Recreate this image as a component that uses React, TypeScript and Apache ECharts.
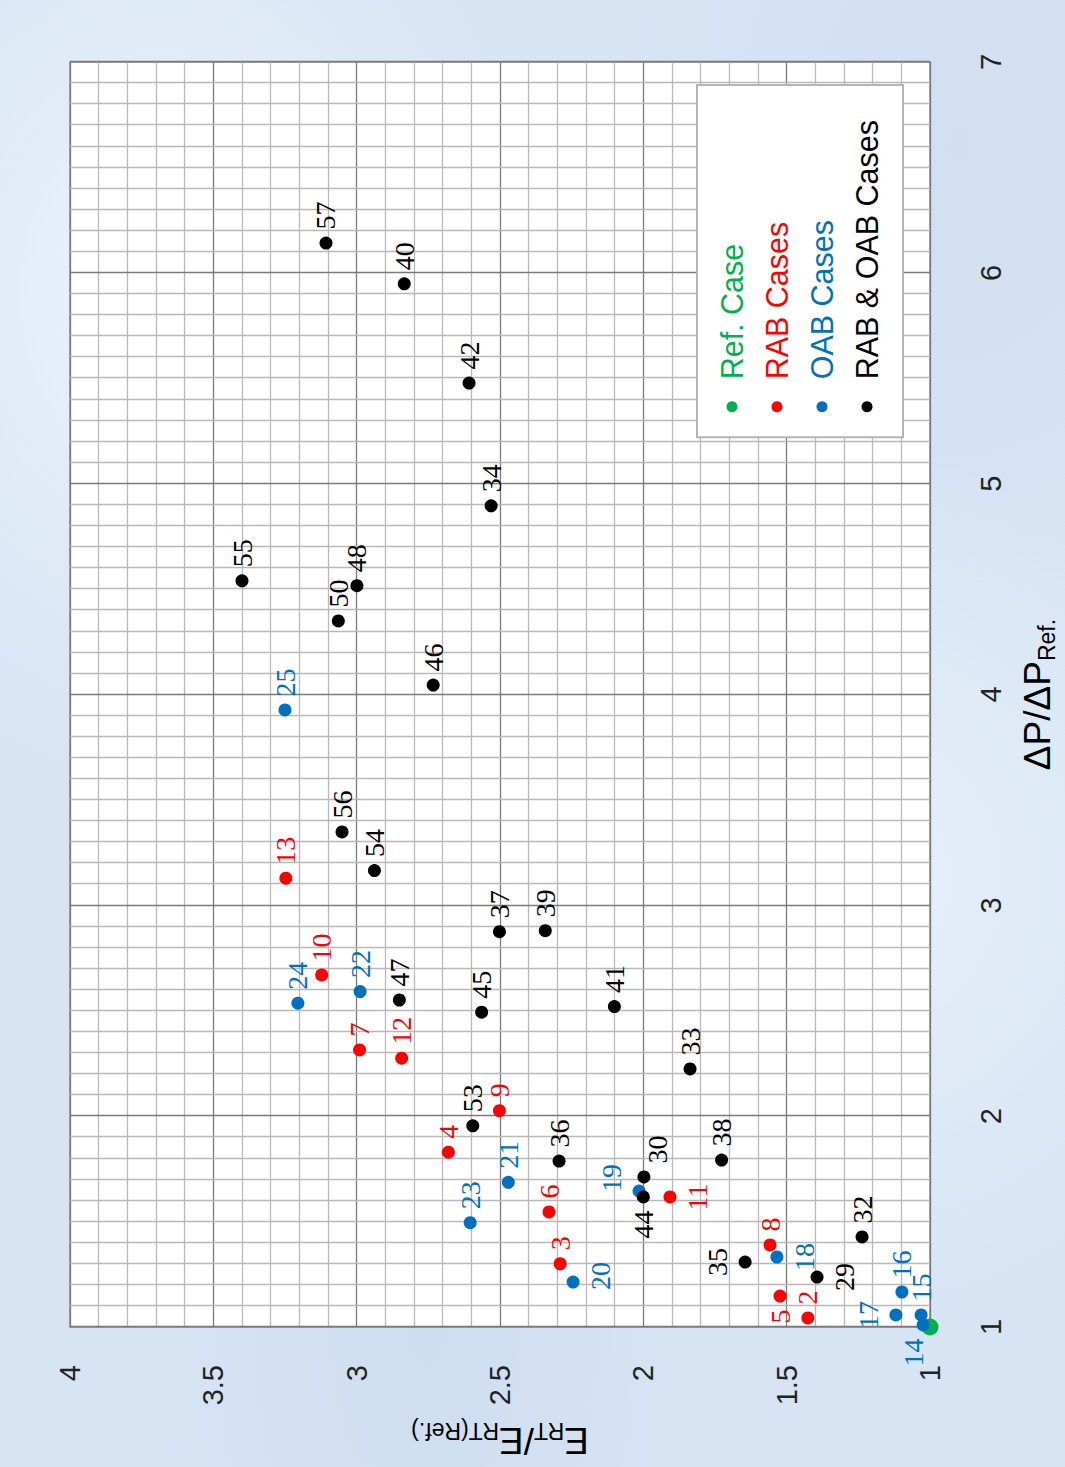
import React, { useEffect, useRef } from "react";
import * as echarts from "echarts";

// ---- data (x = ΔP/ΔP_Ref, y = E_RT/E_RT(Ref.)) ----
const refIds = [1];
const refDp = [1.0];
const refE = [1.0];

const rabIds = [2, 3, 4, 5, 6, 7, 8, 9, 10, 11, 12, 13];
const rabDp = [1.043, 1.3, 1.829, 1.147, 1.546, 2.314, 1.389, 2.026, 2.67, 1.617, 2.275, 3.129];
const rabE = [1.426, 2.29, 2.68, 1.523, 2.329, 2.99, 1.558, 2.502, 3.122, 1.907, 2.843, 3.247];

const oabIds = [14, 15, 16, 17, 18, 19, 20, 21, 22, 23, 24, 25];
const oabDp = [1.01, 1.057, 1.166, 1.057, 1.332, 1.645, 1.213, 1.686, 2.591, 1.495, 2.536, 3.927];
const oabE = [1.024, 1.031, 1.098, 1.119, 1.534, 2.015, 2.245, 2.471, 2.988, 2.604, 3.205, 3.25];

const bothIds = [29, 30, 32, 33, 34, 35, 36, 37, 38, 39, 40, 41, 42, 44, 45, 46, 47, 48, 50, 53, 54, 55, 56, 57];
const bothDp = [1.237, 1.712, 1.427, 2.224, 4.895, 1.308, 1.787, 2.875, 1.792, 2.88, 5.948, 2.52, 5.477, 1.617, 2.493, 4.045, 2.551, 4.516, 4.349, 1.954, 3.165, 4.539, 3.348, 6.141];
const bothE = [1.394, 1.998, 1.237, 1.837, 2.531, 1.645, 2.294, 2.502, 1.727, 2.342, 2.834, 2.101, 2.608, 2.0, 2.564, 2.733, 2.851, 2.999, 3.064, 2.595, 2.938, 3.4, 3.051, 3.107];

const seriesNames = ["Ref. Case", "RAB Cases", "OAB Cases", "RAB & OAB Cases"];
const seriesColors = ["#00b050", "#ff0000", "#0070c0", "#000000"];

// label placement (style only)
const labelPlace: Record<number, { position: string; offset?: number[] }> = {
  5: { position: "left" },
  14: { position: "left", offset: [0, -10] },
  44: { position: "left" },
  18: { position: "bottom" },
  29: { position: "bottom" },
  11: { position: "bottom" },
  20: { position: "bottom", offset: [6, 0] },
  35: { position: "top" },
  17: { position: "top" },
  19: { position: "top", offset: [13, 0] },
  30: { position: "right", offset: [0, 14] },
};

const SANS = "'Liberation Sans', Arial, sans-serif";
const SERIF = "'Liberation Serif', 'Times New Roman', serif";

function buildSeries(idx: number, ids: number[], xs: number[], ys: number[], size: number, showLabel: boolean) {
  const color = seriesColors[idx];
  return {
    type: "scatter",
    name: seriesNames[idx],
    symbol: "circle",
    symbolSize: size,
    clip: false,
    itemStyle: { color, opacity: 1 },
    label: {
      show: showLabel,
      position: "right",
      distance: 7,
      formatter: "{b}",
      color,
      fontFamily: SERIF,
      fontSize: 28,
    },
    emphasis: { disabled: true },
    data: ids.map((id, i) => {
      const p = labelPlace[id];
      const item: any = { name: String(id), value: [xs[i], ys[i]] };
      if (p) item.label = { position: p.position, offset: p.offset || [0, 0] };
      return item;
    }),
  };
}

export default function App() {
  const ref = useRef<HTMLDivElement>(null);
  useEffect(() => {
    document.body.style.margin = "0";
    const chart = echarts.init(ref.current!, null, { renderer: "svg" });
    const option: any = {
      animation: false,
      backgroundColor: "transparent",
      grid: {
        left: 140,
        right: 62,
        top: 70,
        bottom: 135,
        containLabel: false,
        outerBoundsMode: "none",
        show: true,
        backgroundColor: "#ffffff",
        borderColor: "#868686",
        borderWidth: 1.5,
      },
      legend: {
        orient: "vertical",
        right: 85,
        bottom: 162,
        padding: [18, 35, 19, 25],
        itemGap: 11,
        itemWidth: 11,
        itemHeight: 11,
        icon: "circle",
        backgroundColor: "#ffffff",
        borderColor: "#b4b4b4",
        borderWidth: 2,
        textStyle: { fontFamily: SANS, fontSize: 30.5, lineHeight: 34, padding: [0, 0, 0, 17] },
        data: seriesNames.map((n, i) => ({ name: n, textStyle: { color: seriesColors[i] } })),
      },
      xAxis: {
        type: "value",
        min: 1,
        max: 7,
        interval: 1,
        name: "{a|ΔP/ΔP}{s|Ref.}",
        nameLocation: "middle",
        nameGap: 86,
        nameTextStyle: {
          rich: {
            a: { fontFamily: SANS, fontSize: 37, lineHeight: 42, color: "#000" },
            s: { fontFamily: SANS, fontSize: 23, lineHeight: 14, verticalAlign: "bottom", color: "#000" },
          },
        },
        axisLine: { show: false },
        axisTick: { show: false },
        axisLabel: { fontFamily: SANS, fontSize: 29, color: "#222", margin: 46 },
        splitLine: { show: true, lineStyle: { color: "#7a7a7a", width: 1.3 } },
        minorTick: { show: false, splitNumber: 10 },
        minorSplitLine: { show: true, lineStyle: { color: "#b8b8b8", width: 1.3 } },
      },
      yAxis: {
        type: "value",
        min: 1,
        max: 4,
        interval: 0.5,
        name: "{e|E}{s|RT}{e|/E}{s|RT(Ref.)}",
        nameLocation: "middle",
        nameRotate: 90,
        nameGap: 92,
        nameTextStyle: {
          rich: {
            e: { fontFamily: SANS, fontSize: 37, lineHeight: 42, color: "#000" },
            s: { fontFamily: SANS, fontSize: 23, lineHeight: 14, verticalAlign: "bottom", color: "#000" },
          },
        },
        axisLine: { show: false },
        axisTick: { show: false },
        axisLabel: { fontFamily: SANS, fontSize: 29, color: "#222", margin: 38 },
        splitLine: { show: true, lineStyle: { color: "#7a7a7a", width: 1.3 } },
        minorTick: { show: false, splitNumber: 5 },
        minorSplitLine: { show: true, lineStyle: { color: "#b8b8b8", width: 1.3 } },
      },
      series: [
        buildSeries(0, refIds, refDp, refE, 17, false),
        buildSeries(1, rabIds, rabDp, rabE, 13, true),
        buildSeries(2, oabIds, oabDp, oabE, 13, true),
        buildSeries(3, bothIds, bothDp, bothE, 13, true),
      ],
    };
    chart.setOption(option);
    return () => chart.dispose();
  }, []);

  return (
    <div
      style={{
        position: "relative",
        width: 1065,
        height: 1467,
        overflow: "hidden",
        backgroundColor: "#d7e4f4",
        backgroundImage:
          "radial-gradient(ellipse at 15% 20%, rgba(240,246,253,0.8), rgba(240,246,253,0) 30%)," +
          "radial-gradient(ellipse at 80% 60%, rgba(238,244,252,0.7), rgba(238,244,252,0) 35%)," +
          "radial-gradient(ellipse at 40% 90%, rgba(200,216,238,0.6), rgba(200,216,238,0) 30%)," +
          "radial-gradient(ellipse at 90% 10%, rgba(205,220,240,0.6), rgba(205,220,240,0) 25%)",
      }}
    >
      <div
        ref={ref}
        style={{
          position: "absolute",
          left: -201,
          top: 201,
          width: 1467,
          height: 1065,
          transform: "rotate(-90deg)",
          transformOrigin: "50% 50%",
        }}
      />
    </div>
  );
}
